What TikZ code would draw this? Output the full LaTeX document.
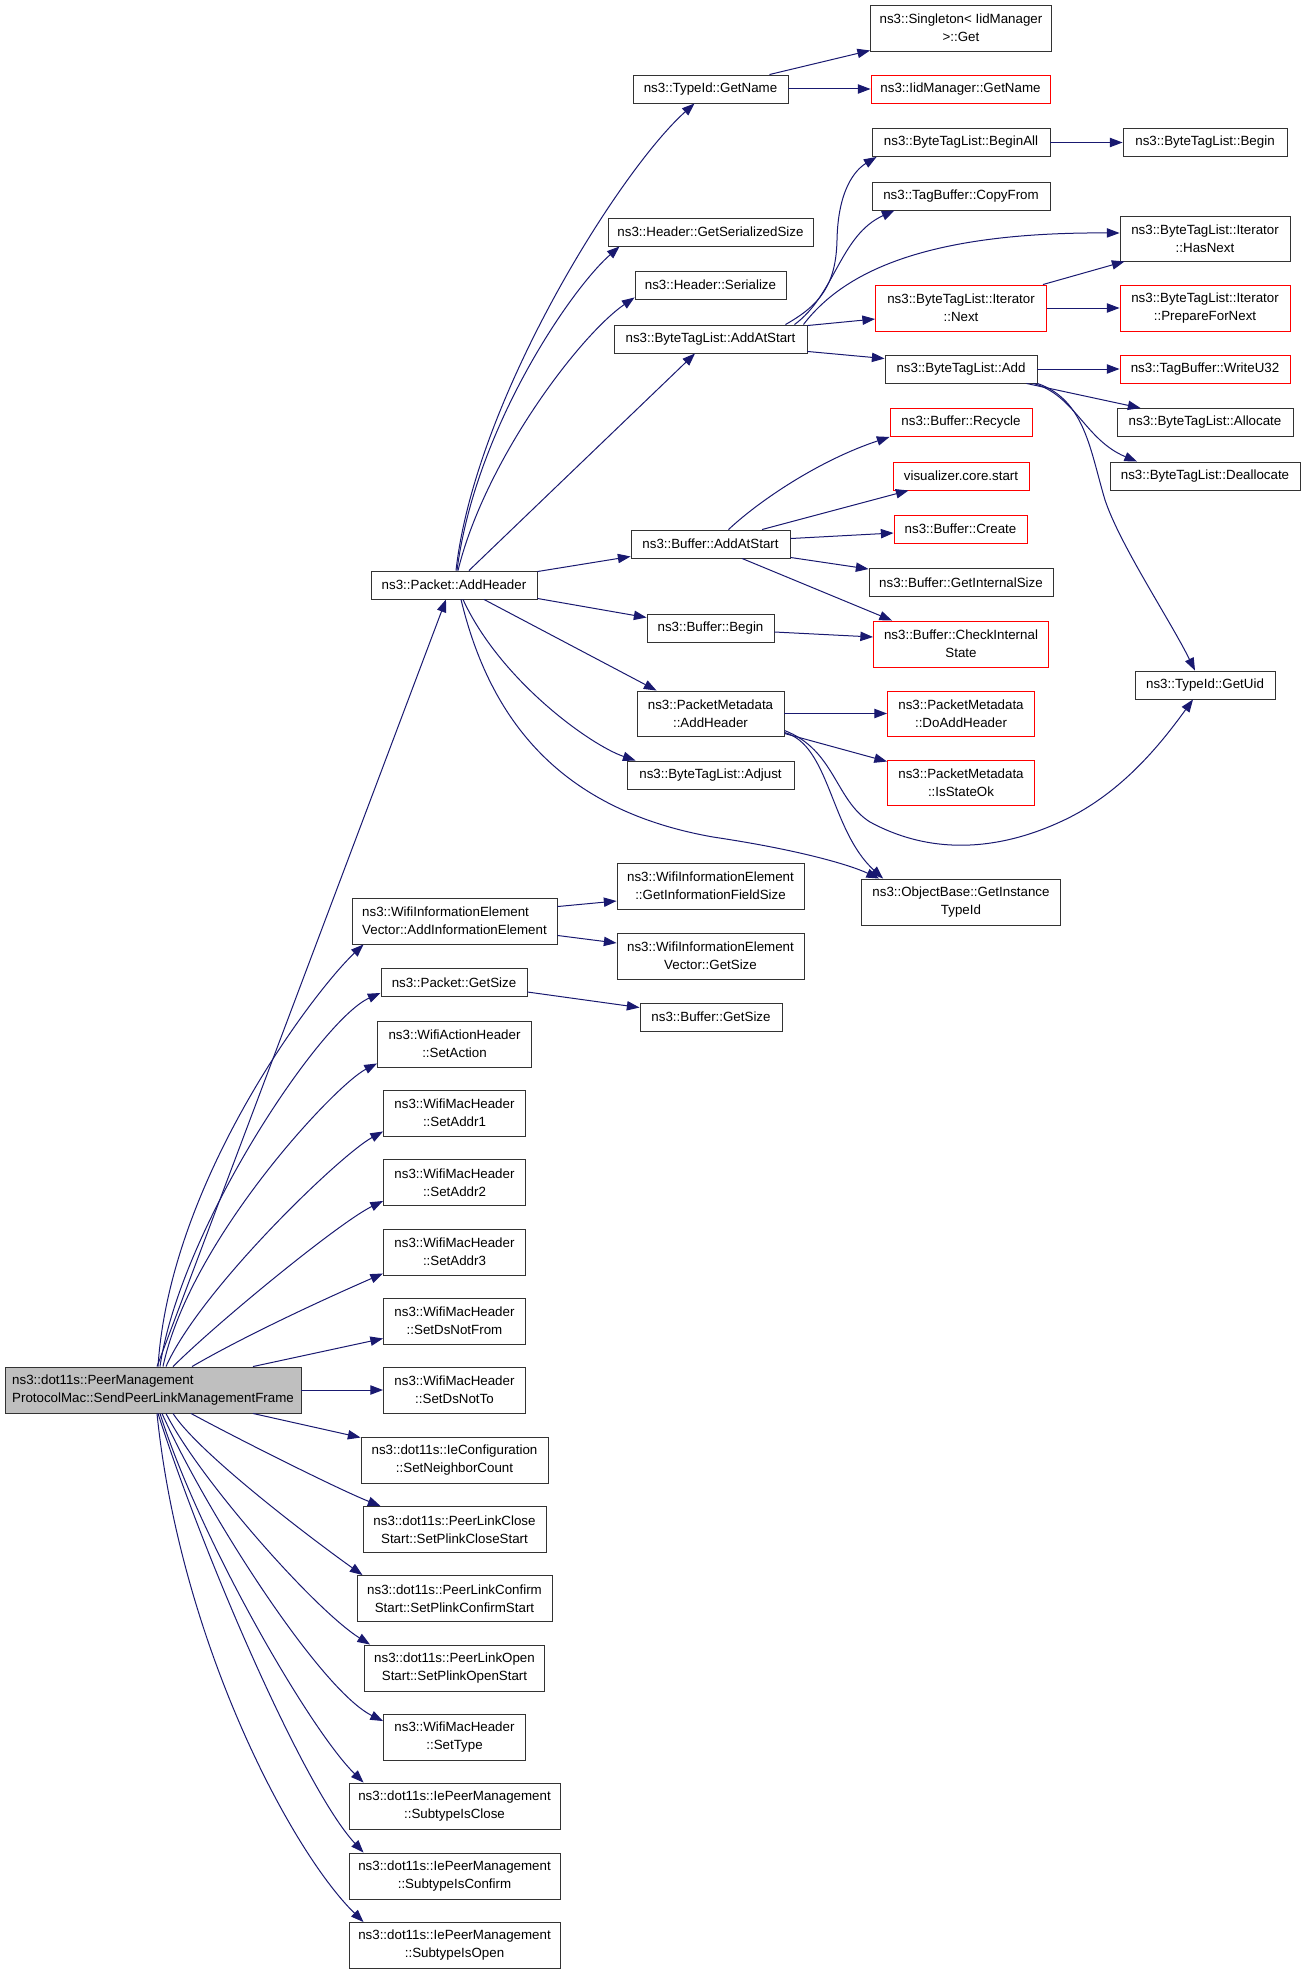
\documentclass[tikz,border=0pt]{standalone}
\usepackage{fontspec}
\setmainfont{Liberation Sans}
\usetikzlibrary{arrows.meta,calc}
\definecolor{edgec}{HTML}{191970}
\definecolor{mainfill}{HTML}{BFBFBF}
\definecolor{boxline}{HTML}{333333}
\begin{document}
\begin{tikzpicture}[x=0.75pt,y=-0.75pt,
  box/.style={draw=boxline, line width=0.7pt, fill=white, inner sep=0pt,
    font=\fontsize{10}{13.5}\selectfont, align=center},
  redbox/.style={box, draw=red},
  mainbox/.style={box, fill=mainfill, align=left},
  wh/.style n args={2}{minimum width=#1*0.75pt, minimum height=#2*0.75pt},
  e/.style={draw=edgec, line width=0.75pt, -{Triangle[length=9.5pt,width=7pt]}}]
\useasboundingbox (0,0) rectangle (1307,1973);
% ---- nodes ----
\node[mainbox, wh={296}{46}] (main) at (153,1390) {ns3::dot11s::PeerManagement\\ProtocolMac::SendPeerLinkManagementFrame};
\node[box, wh={155}{28}] (gname) at (710.5,89) {ns3::TypeId::GetName};
\node[box, wh={181}{46}] (single) at (961,28) {ns3::Singleton\textless{} IidManager\\\textgreater::Get};
\node[redbox, wh={179}{28}] (iidget) at (960.5,89) {ns3::IidManager::GetName};
\node[box, wh={178}{28}] (beginall) at (961,142.5) {ns3::ByteTagList::BeginAll};
\node[box, wh={164}{28}] (begin) at (1205,142.5) {ns3::ByteTagList::Begin};
\node[box, wh={178}{28}] (copyfrom) at (961,196) {ns3::TagBuffer::CopyFrom};
\node[box, wh={205}{28}] (gss) at (710.5,232) {ns3::Header::GetSerializedSize};
\node[box, wh={170}{45}] (hasnext) at (1205,238.5) {ns3::ByteTagList::Iterator\\::HasNext};
\node[box, wh={151}{28}] (ser) at (710.5,285) {ns3::Header::Serialize};
\node[redbox, wh={171}{46}] (itnext) at (961,308) {ns3::ByteTagList::Iterator\\::Next};
\node[redbox, wh={170}{46}] (prep) at (1205,308) {ns3::ByteTagList::Iterator\\::PrepareForNext};
\node[box, wh={193}{28}] (btladd) at (710.5,339) {ns3::ByteTagList::AddAtStart};
\node[box, wh={152}{28}] (add) at (961,369) {ns3::ByteTagList::Add};
\node[redbox, wh={170}{28}] (wu32) at (1205,369) {ns3::TagBuffer::WriteU32};
\node[box, wh={176}{28}] (alloc) at (1205,422.5) {ns3::ByteTagList::Allocate};
\node[redbox, wh={142}{28}] (recycle) at (961,422.5) {ns3::Buffer::Recycle};
\node[box, wh={190}{28}] (dealloc) at (1205,476) {ns3::ByteTagList::Deallocate};
\node[redbox, wh={136}{28}] (viz) at (961,476) {visualizer.core.start};
\node[redbox, wh={133}{28}] (create) at (960.5,529) {ns3::Buffer::Create};
\node[box, wh={159}{28}] (bufadd) at (710.5,544) {ns3::Buffer::AddAtStart};
\node[box, wh={184}{28}] (gis) at (961,582.5) {ns3::Buffer::GetInternalSize};
\node[box, wh={127}{28}] (bufbegin) at (710.5,628) {ns3::Buffer::Begin};
\node[redbox, wh={175}{46}] (cis) at (961,644) {ns3::Buffer::CheckInternal\\State};
\node[box, wh={140}{28}] (guid) at (1205,685) {ns3::TypeId::GetUid};
\node[box, wh={147}{45}] (pmadd) at (710.5,713.5) {ns3::PacketMetadata\\::AddHeader};
\node[redbox, wh={147}{45}] (doadd) at (961,713.5) {ns3::PacketMetadata\\::DoAddHeader};
\node[box, wh={167}{28}] (adjust) at (710.5,775) {ns3::ByteTagList::Adjust};
\node[redbox, wh={147}{45}] (isok) at (961,782.5) {ns3::PacketMetadata\\::IsStateOk};
\node[box, wh={187}{46}] (gifs) at (710.5,886) {ns3::WifiInformationElement\\::GetInformationFieldSize};
\node[box, wh={199}{46}] (gitid) at (961,902) {ns3::ObjectBase::GetInstance\\TypeId};
\node[box, wh={187}{46}] (vgs) at (710.5,956) {ns3::WifiInformationElement\\Vector::GetSize};
\node[box, wh={166}{28}] (pah) at (454,585) {ns3::Packet::AddHeader};
\node[box, wh={205}{46}, align=left] (aie) at (454.5,921) {ns3::WifiInformationElement\\Vector::AddInformationElement};
\node[box, wh={146}{28}] (pgs) at (454,982.5) {ns3::Packet::GetSize};
\node[box, wh={142}{28}] (bgs) at (711,1017) {ns3::Buffer::GetSize};
\node[box, wh={154}{46}] (setaction) at (454.5,1044) {ns3::WifiActionHeader\\::SetAction};
\node[box, wh={142}{46}] (addr1) at (454.5,1113) {ns3::WifiMacHeader\\::SetAddr1};
\node[box, wh={142}{46}] (addr2) at (454.5,1182.5) {ns3::WifiMacHeader\\::SetAddr2};
\node[box, wh={142}{46}] (addr3) at (454.5,1252) {ns3::WifiMacHeader\\::SetAddr3};
\node[box, wh={142}{46}] (dsfrom) at (454.5,1321) {ns3::WifiMacHeader\\::SetDsNotFrom};
\node[box, wh={142}{46}] (dsto) at (454.5,1390) {ns3::WifiMacHeader\\::SetDsNotTo};
\node[box, wh={187}{46}] (neigh) at (454.5,1460) {ns3::dot11s::IeConfiguration\\::SetNeighborCount};
\node[box, wh={183}{46}] (pclose) at (454.5,1529.5) {ns3::dot11s::PeerLinkClose\\Start::SetPlinkCloseStart};
\node[box, wh={195}{46}] (pconfirm) at (454.5,1598.5) {ns3::dot11s::PeerLinkConfirm\\Start::SetPlinkConfirmStart};
\node[box, wh={180}{46}] (popen) at (454.5,1668) {ns3::dot11s::PeerLinkOpen\\Start::SetPlinkOpenStart};
\node[box, wh={142}{46}] (settype) at (454.5,1737.5) {ns3::WifiMacHeader\\::SetType};
\node[box, wh={211}{46}] (sclose) at (454.5,1806) {ns3::dot11s::IePeerManagement\\::SubtypeIsClose};
\node[box, wh={211}{46}] (sconfirm) at (454.5,1876) {ns3::dot11s::IePeerManagement\\::SubtypeIsConfirm};
\node[box, wh={211}{46}] (sopen) at (454.5,1945.5) {ns3::dot11s::IePeerManagement\\::SubtypeIsOpen};
% ---- edges from main ----
\draw[e] ($(main.north)+(4,0)$) -- ($(pah.south)+(-8,0)$);
\draw[e] ($(main.north)+(5,0)$) .. controls (170,1180) and (315,990) .. ($(aie.south west)+(12,0)$);
\draw[e] ($(main.north)+(7,0)$) .. controls (180,1230) and (320,1020) .. ($(pgs.south west)+(0,-4)$);
\draw[e] ($(main.north)+(10,0)$) .. controls (190,1240) and (335,1085) .. ($(setaction.south west)+(0,-4)$);
\draw[e] ($(main.north)+(13,0)$) .. controls (200,1290) and (340,1155) .. ($(addr1.south west)+(0,-5)$);
\draw[e] ($(main.north)+(20,0)$) .. controls (220,1320) and (340,1222) .. ($(addr2.south west)+(0,-5)$);
\draw[e] ($(main.north)+(39,0)$) .. controls (255,1330) and (345,1290) .. ($(addr3.south west)+(0,-2)$);
\draw[e] ($(main.north)+(100,0)$) -- ($(dsfrom.south west)+(0,-6)$);
\draw[e] (main.east) -- (dsto.west);
\draw[e] ($(main.south)+(100,0)$) -- ($(neigh.north west)+(0,1)$);
\draw[e] ($(main.south)+(38,0)$) .. controls (240,1440) and (340,1490) .. ($(pclose.north west)+(18,0)$);
\draw[e] ($(main.south)+(20,0)$) .. controls (200,1455) and (320,1545) .. ($(pconfirm.north west)+(6,0)$);
\draw[e] ($(main.south)+(13,0)$) .. controls (200,1480) and (315,1610) .. ($(popen.north west)+(6,0)$);
\draw[e] ($(main.south)+(9,0)$) .. controls (205,1510) and (320,1690) .. ($(settype.north west)+(0,7)$);
\draw[e] ($(main.south)+(7,0)$) .. controls (200,1540) and (310,1730) .. ($(sclose.north west)+(15,0)$);
\draw[e] ($(main.south)+(5,0)$) .. controls (205,1560) and (305,1790) .. ($(sconfirm.north west)+(15,0)$);
\draw[e] ($(main.south)+(4,0)$) .. controls (180,1640) and (290,1850) .. ($(sopen.north west)+(15,0)$);
% ---- edges from Packet::AddHeader ----
\draw[e] ($(pah.north)+(2,0)$) .. controls (475,400) and (620,170) .. ($(gname.south west)+(62,0)$);
\draw[e] ($(pah.north)+(3,0)$) .. controls (475,430) and (570,290) .. ($(gss.south west)+(12,0)$);
\draw[e] ($(pah.north)+(4,0)$) .. controls (485,460) and (580,335) .. ($(ser.south west)+(0,-2)$);
\draw[e] ($(pah.north)+(15,0)$) -- ($(btladd.south)+(-15.5,0)$);
\draw[e] ($(pah.north east)+(0,1)$) -- ($(bufadd.south west)+(0,-2)$);
\draw[e] ($(pah.south east)+(0,-1)$) -- ($(bufbegin.north west)+(0,4)$);
\draw[e] ($(pah.south)+(30,0)$) -- ($(pmadd.north west)+(20,0)$);
\draw[e] ($(pah.south)+(9,0)$) .. controls (500,680) and (590,745) .. ($(adjust.north west)+(9,0)$);
\draw[e] ($(pah.south)+(7,0)$) .. controls (490,720) and (560,810) .. (713,837) .. controls (800,850) and (850,865) .. ($(gitid.north west)+(18,0)$);
% ---- TypeId::GetName ----
\draw[e] ($(gname.north east)+(-19,0)$) -- ($(single.south west)+(0,-1)$);
\draw[e] (gname.east) -- (iidget.west);
% ---- ByteTagList::AddAtStart ----
\draw[e] ($(btladd.north east)+(-22,0)$) .. controls (820,305) and (836,285) .. (837,240) .. controls (838,190) and (855,170) .. ($(beginall.south west)+(5,0)$);
\draw[e] ($(btladd.north east)+(-13,0)$) .. controls (835,295) and (840,235) .. ($(copyfrom.south west)+(23,0)$);
\draw[e] ($(btladd.north east)+(-4,0)$) .. controls (845,270) and (930,232) .. ($(hasnext.west)+(0,-5.5)$);
\draw[e] ($(btladd.north east)+(0,1)$) -- ($(itnext.west)+(0,11)$);
\draw[e] ($(btladd.south east)+(0,-2)$) -- ($(add.north west)+(0,4)$);
\draw[e] (beginall.east) -- (begin.west);
\draw[e] ($(itnext.north east)+(-4,0)$) -- ($(hasnext.south west)+(5,0)$);
\draw[e] (itnext.east) -- (prep.west);
% ---- ByteTagList::Add ----
\draw[e] (add.east) -- (wu32.west);
\draw[e] ($(add.south east)+(-11,0)$) -- ($(alloc.north west)+(24,0)$);
\draw[e] ($(add.south east)+(-4,0)$) .. controls (1075,395) and (1085,440) .. ($(dealloc.north west)+(27.5,0)$);
\draw[e] (add.south east) .. controls (1085,400) and (1090,450) .. (1105,500) .. controls (1120,545) and (1170,620) .. ($(guid.north)+(-10,0)$);
% ---- Buffer::AddAtStart ----
\draw[e] ($(bufadd.north)+(18,0)$) .. controls (760,500) and (820,460) .. (recycle.south west);
\draw[e] ($(bufadd.north)+(51.5,0)$) -- ($(viz.south west)+(16,0)$);
\draw[e] ($(bufadd.north east)+(0,9)$) -- ($(create.west)+(0,4)$);
\draw[e] ($(bufadd.south east)+(0,-1)$) -- ($(gis.north west)+(0,1)$);
\draw[e] ($(bufadd.south)+(31.5,0)$) -- ($(cis.north west)+(19,0)$);
\draw[e] ($(bufbegin.east)+(0,4)$) -- ($(cis.west)+(0,-7)$);
% ---- PacketMetadata::AddHeader ----
\draw[e] (pmadd.east) -- (doadd.west);
\draw[e] ($(pmadd.south east)+(0,-3)$) -- ($(isok.north west)+(0,2)$);
\draw[e] ($(pmadd.south east)+(0,-4)$) .. controls (830,745) and (830,830) .. ($(gitid.north west)+(22,0)$);
\draw[e] ($(pmadd.south east)+(0,-6)$) .. controls (835,750) and (835,800) .. (870,822) .. controls (940,860) and (1010,845) .. (1060,822) .. controls (1120,795) and (1160,745) .. ($(guid.south)+(-12,0)$);
% ---- others ----
\draw[e] ($(aie.north east)+(0,9)$) -- ($(gifs.west)+(0,15)$);
\draw[e] ($(aie.south east)+(0,-9)$) -- ($(vgs.west)+(0,-13)$);
\draw[e] ($(pgs.east)+(0,9.5)$) -- ($(bgs.north west)+(0,5)$);
\end{tikzpicture}
\end{document}
